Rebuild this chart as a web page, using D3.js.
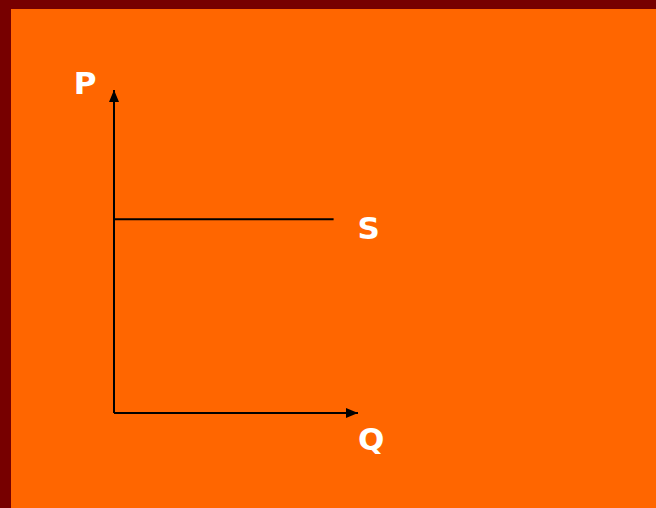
<!DOCTYPE html>
<html>
<head>
<meta charset="utf-8">
<script src="https://cdn.jsdelivr.net/npm/d3@7"></script>
<style>
  html, body { margin: 0; padding: 0; background: #770000; }
  #chart { width: 656px; height: 508px; }
  .label { font-family: "DejaVu Sans", sans-serif; font-weight: bold; font-size: 31px; fill: #ffffff; }
</style>
</head>
<body>
<div id="chart"></div>
<script>
// values of the diagram (unit axes)
var axisLabels = ["P", "Q"];
var supplyLabel = ["S"];
var supplyPrice = [0.6];
var supplyQty = [0, 0.9];

var width = 656, height = 508;

var svg = d3.select("#chart").append("svg")
    .attr("width", width)
    .attr("height", height);

// dark frame on top and left
svg.append("rect")
    .attr("x", 0).attr("y", 0)
    .attr("width", width).attr("height", height)
    .attr("fill", "#770000");

svg.append("rect")
    .attr("x", 11).attr("y", 9)
    .attr("width", width - 11).attr("height", height - 9)
    .attr("fill", "#ff6600");

var x = d3.scaleLinear().domain([0, 1]).range([114, 358]);
var y = d3.scaleLinear().domain([0, 1]).range([413, 90]);

// arrowhead
svg.append("defs").append("marker")
    .attr("id", "arrow")
    .attr("viewBox", "0 0 12 10")
    .attr("refX", 12)
    .attr("refY", 5)
    .attr("markerWidth", 12)
    .attr("markerHeight", 10)
    .attr("markerUnits", "userSpaceOnUse")
    .attr("orient", "auto")
    .append("path")
    .attr("d", "M0,0L12,5L0,10Z")
    .attr("fill", "#000");

var line = d3.line()
    .x(function(d) { return x(d[0]); })
    .y(function(d) { return y(d[1]); });

// the P axis
svg.append("path")
    .datum([[0, 0], [0, 1]])
    .attr("d", line)
    .attr("stroke", "#000")
    .attr("stroke-width", 2)
    .attr("fill", "none")
    .attr("marker-end", "url(#arrow)");

// the Q axis
svg.append("path")
    .datum([[0, 0], [1, 0]])
    .attr("d", line)
    .attr("stroke", "#000")
    .attr("stroke-width", 2)
    .attr("fill", "none")
    .attr("marker-end", "url(#arrow)");

// supply curve, perfectly elastic
svg.append("path")
    .datum(supplyQty.map(function(q) { return [q, supplyPrice[0]]; }))
    .attr("d", line)
    .attr("stroke", "#000")
    .attr("stroke-width", 2)
    .attr("fill", "none");

svg.append("text")
    .attr("class", "label")
    .attr("x", x(0) - 29)
    .attr("y", y(1) + 4)
    .attr("text-anchor", "middle")
    .text(axisLabels[0]);

svg.append("text")
    .attr("class", "label")
    .attr("x", x(1))
    .attr("y", y(0) + 37)
    .text(axisLabels[1]);

svg.append("text")
    .attr("class", "label")
    .attr("x", x(supplyQty[1]) + 24)
    .attr("y", y(supplyPrice[0]) + 20)
    .text(supplyLabel[0]);
</script>
</body>
</html>
